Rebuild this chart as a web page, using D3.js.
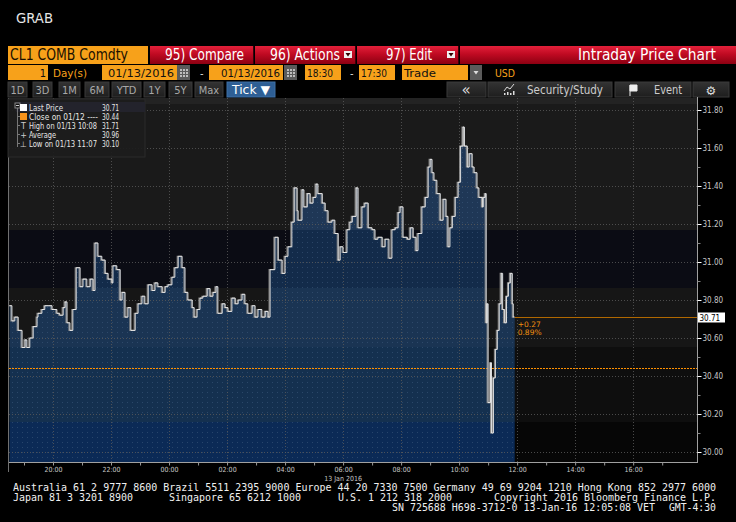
<!DOCTYPE html>
<html><head><meta charset="utf-8">
<script src="https://cdn.jsdelivr.net/npm/d3@7"></script>
<style>html,body{margin:0;padding:0;background:#000;overflow:hidden}</style>
</head><body><svg id="c" width="736" height="522"></svg>
<script>
// ---------- DATA ----------
const times = ["18:30","18:35","18:41","18:48","18:56","19:02","19:06","19:12","19:19","19:27","19:29","19:37","19:43","19:50","19:58","20:08","20:14","20:21","20:25","20:29","20:35","20:41","20:48","20:56","21:02","21:10","21:17","21:23","21:27","21:33","21:41","21:48","21:54","22:02","22:04","22:12","22:19","22:23","22:29","22:35","22:41","22:50",
"22:56","23:04","23:10","23:17","23:25","23:31","23:37","23:46","23:52","23:58","00:06","00:12","00:19","00:27","00:33","00:39","00:48","00:52","00:58","01:04","01:10","01:19","01:25","01:31","01:37","01:41","01:50","01:56","02:02","02:10","02:17","02:23","02:31","02:37","02:43","02:52","02:58","03:04","03:12","03:19","03:25",
"03:29","03:39","03:46","03:54","04:00","04:06","04:14","04:19","04:25","04:27","04:35","04:39","04:46","04:52","04:58","05:04","05:08","05:17","05:23","05:29","05:37","05:43","05:50","05:54","06:00","06:08","06:14","06:19","06:27","06:31","06:39","06:45","06:52","07:00","07:06","07:12","07:21","07:27","07:35","07:41","07:48",
"07:54","07:58","08:04","08:13","08:19","08:25","08:31","08:35","08:43","08:50","08:56","09:00","09:04","09:08","09:14","09:21","09:27","09:33","09:37","09:41","09:46","09:52","09:58","10:03","10:08","10:11","10:17","10:21","10:27","10:31","10:37","10:41","10:48","10:50","10:54","10:56","10:58","11:00","11:05","11:07","11:11","11:15","11:19","11:23","11:27","11:30","11:34","11:38","11:42","11:46","11:50","11:52","11:55"];
const prices = [30.77,30.69,30.71,30.64,30.55,30.59,30.55,30.60,30.66,30.71,30.73,30.75,30.77,30.77,30.75,30.73,30.72,30.76,30.79,30.68,30.64,30.75,30.97,30.87,30.91,30.87,30.91,30.85,31.10,31.03,31.01,30.94,30.91,30.89,30.98,30.96,30.80,30.84,30.71,30.76,30.64,30.73,
30.78,30.82,30.78,30.88,30.85,30.89,30.87,30.84,30.87,30.88,30.92,30.97,31.03,30.97,30.84,30.80,30.76,30.71,30.75,30.81,30.82,30.86,30.82,30.84,30.87,30.73,30.78,30.76,30.74,30.81,30.78,30.80,30.83,30.78,30.73,30.77,30.71,30.75,30.71,30.74,30.71,
30.96,31.13,31.01,30.94,31.03,31.08,31.21,31.39,31.27,31.22,31.38,31.29,31.36,31.31,31.34,31.41,31.36,31.31,31.27,31.21,31.22,31.15,31.01,31.08,31.05,31.17,31.21,31.24,31.39,31.18,31.29,31.31,31.18,31.17,31.12,31.13,31.08,31.12,31.02,31.17,31.18,
31.26,31.29,31.13,31.12,31.18,31.13,31.06,31.15,31.29,31.34,31.50,31.54,31.47,31.43,31.36,31.22,31.33,31.24,31.08,31.18,31.24,31.34,31.42,31.61,31.71,31.61,31.50,31.57,31.50,31.47,31.39,31.34,31.29,31.34,31.36,30.68,30.78,30.26,30.47,30.10,30.39,30.54,30.64,30.78,30.94,30.75,30.68,30.82,30.89,30.94,30.78,30.71,30.71];
const hourLabels = ["20:00","22:00","00:00","02:00","04:00","06:00","08:00","10:00","12:00","14:00","16:00"];
const hourTicks = ["19:00","20:00","21:00","22:00","23:00","00:00","01:00","02:00","03:00","04:00","05:00","06:00","07:00","08:00","09:00","10:00","11:00","12:00","13:00","14:00","15:00","16:00","17:00","18:00"];
const priceTicks = [30.00,30.20,30.40,30.60,30.80,31.00,31.20,31.40,31.60,31.80];
const minorTicks = [30.10,30.30,30.50,30.70,30.90,31.10,31.30,31.50,31.70];
const lastPrice = 30.71, prevClose = 30.44;
const changeText = ["+0.27","0.89%"];
const legendLabels = ["Last Price","Close on 01/12 ----","High on 01/13 10:08","Average","Low on 01/13 11:07"];
const legendValues = ["30.71","30.44","31.71","30.96","30.10"];
const dateLabel = "13 Jan 2016";

// ---------- SETUP ----------
const svg = d3.select("#c");
const NF = "'Liberation Sans Narrow','Arial Narrow','DejaVu Sans Condensed','Liberation Sans',sans-serif";
const CF = "'DejaVu Sans Condensed','DejaVu Sans',sans-serif";
const parseT = s => { const [h,m] = s.split(":").map(Number); return new Date(2016,0,h>=18?12:13,h,m); };
const data = times.map((t,i)=>({t:parseT(t), v:prices[i]}));
const PL=9, PR=697, PT=98, PB=462;
const x = d3.scaleTime().domain([new Date(2016,0,12,18,30), new Date(2016,0,13,18,12)]).range([9.5,697]);
const y = d3.scaleLinear().domain([30,31.8]).range([452,110]);

const defs = svg.append("defs");
const rg = defs.append("linearGradient").attr("id","red").attr("x1",0).attr("y1",0).attr("x2",0).attr("y2",1);
rg.append("stop").attr("offset","0%").attr("stop-color","#e3203a");
rg.append("stop").attr("offset","45%").attr("stop-color","#c00a22");
rg.append("stop").attr("offset","100%").attr("stop-color","#8c0012");
const bg = defs.append("linearGradient").attr("id","btn").attr("x1",0).attr("y1",0).attr("x2",0).attr("y2",1);
bg.append("stop").attr("offset","0%").attr("stop-color","#333");
bg.append("stop").attr("offset","100%").attr("stop-color","#1e1e1e");
const pat = defs.append("pattern").attr("id","dots").attr("width",5).attr("height",5).attr("patternUnits","userSpaceOnUse");
pat.append("rect").attr("x",2).attr("y",2).attr("width",1).attr("height",1).attr("fill","#3d5b7e").attr("opacity",0.55);
defs.append("clipPath").attr("id","plotclip").append("rect").attr("x",PL).attr("y",PT).attr("width",PR-PL).attr("height",PB-PT);

const area = d3.area().x(d=>x(d.t)).y0(PB).y1(d=>y(d.v)).curve(d3.curveStepAfter);
const line = d3.line().x(d=>x(d.t)).y(d=>y(d.v)).curve(d3.curveStepAfter);
defs.append("clipPath").attr("id","areaclip").append("path").attr("d",area(data));

function rect(g,x0,y0,w,h,fill,stroke){const r=g.append("rect").attr("x",x0).attr("y",y0).attr("width",w).attr("height",h).attr("fill",fill); if(stroke) r.attr("stroke",stroke).attr("stroke-width",1); return r;}
function text(g,x0,y0,s,o={}){const t=g.append("text").attr("x",x0).attr("y",y0).text(s)
  .attr("font-family",o.ff||NF).attr("font-size",o.fs||11).attr("fill",o.fill||"#fff").attr("text-anchor",o.anchor||"start");
  if(o.tl){t.attr("textLength",o.tl).attr("lengthAdjust","spacingAndGlyphs");} if(o.fw) t.attr("font-weight",o.fw); return t;}

// ---------- HEADER ----------
const hd = svg.append("g");
text(hd,16,23,"GRAB",{fs:14,fill:"#e6e6e6",tl:37});
rect(hd,8,46,140,18,"#f7a11a");
text(hd,10,60,"CL1 COMB Comdty",{fs:15,fill:"#1a1000",tl:118});
[[150,103,"95) Compare",165,79,false],[255,100,"96) Actions",270,70,true],[357,101,"97) Edit",386,46,true]].forEach(b=>{
  rect(hd,b[0],46,b[1],18,"url(#red)");
  hd.append("line").attr("x1",b[0]+b[1]+0.5).attr("x2",b[0]+b[1]+0.5).attr("y1",46).attr("y2",64).attr("stroke","#3a0008");
  text(hd,b[3],60,b[2],{fs:15,tl:b[4]});
  if(b[5]){const dx=b[0]+b[1]-11; rect(hd,dx,51,8,7,"#f0f0f0"); hd.append("path").attr("d",`M${dx+1.5},${53} L${dx+6.5},${53} L${dx+4},${56.5}Z`).attr("fill","#300");}
});
rect(hd,460,46,276,18,"url(#red)");
text(hd,716,60,"Intraday Price Chart",{fs:15,anchor:"end",tl:138});

// Row 2
const r2y=65, r2h=15, r2b=77;
rect(hd,8,r2y,40,r2h,"#f7a11a"); text(hd,46,r2b,"1",{fs:11,fill:"#111",anchor:"end"});
text(hd,53,r2b,"Day(s)",{fs:11,fill:"#f7a11a",tl:34});
function dateBox(x0,w,s,tx,tl){rect(hd,x0,r2y,w,r2h,"#f7a11a"); text(hd,tx,r2b,s,{fs:11,fill:"#111",tl:tl});}
function calIcon(x0){rect(hd,x0,r2y,13,r2h,"#5b5b5b"); for(let i=0;i<3;i++)for(let j=0;j<3;j++) rect(hd,x0+3+i*3,r2y+4+j*3,2,2,"#bdbdbd");}
dateBox(102,75,"01/13/2016",108,66); calIcon(177);
text(hd,200,r2b,"-",{fs:11,fill:"#ddd"});
dateBox(209,74,"01/13/2016",221,59); calIcon(284);
dateBox(305,36,"18:30",307,26);
text(hd,350,r2b,"-",{fs:11,fill:"#ddd"});
dateBox(359,36,"17:30",361,26);
dateBox(402,66,"Trade",404,32);
rect(hd,470,r2y,12,r2h,"#5b5b5b"); hd.append("path").attr("d","M473.5,71 L478.5,71 L476,74.5Z").attr("fill","#ddd");
text(hd,495,r2b,"USD",{fs:11,fill:"#f7a11a",tl:20});

// Row 3 buttons
const r3y=82, r3h=15, r3b=94;
[["1D",8,19],["3D",33,19],["1M",59,21],["6M",85,24],["YTD",112,29],["1Y",144,21],["5Y",169,23],["Max",195,28]].forEach(b=>{
  rect(hd,b[1],r3y,b[2],r3h,"url(#btn)","#3a3a3a");
  text(hd,b[1]+b[2]/2,r3b,b[0],{fs:11,fill:"#a8a8a8",anchor:"middle"});
});
rect(hd,227,r3y,48,r3h,"#2e5f95","#3f70a6");
text(hd,232,r3b,"Tick ▼",{fs:12,fill:"#fff",tl:38});
rect(hd,447,r3y,39,r3h,"url(#btn)","#3a3a3a"); text(hd,466,r3b+1,"«",{fs:15,fill:"#ddd",anchor:"middle",ff:"DejaVu Sans"});
rect(hd,488,r3y,124,r3h,"url(#btn)","#3a3a3a");
hd.append("path").attr("d","M504,91 L507,87 L510,89 L514,84").attr("fill","none").attr("stroke","#ddd").attr("stroke-width",1);
[[504,2],[507,3],[510,2],[513,4]].forEach(p=>rect(hd,p[0],95-p[1],1.5,p[1],"#ddd"));
text(hd,527,r3b,"Security/Study",{fs:12,fill:"#ccc",tl:76});
rect(hd,615,r3y,76,r3h,"url(#btn)","#3a3a3a");
hd.append("path").attr("d","M630,85 L630,96 M630,85 L637,85 L637,91 L630,91Z").attr("fill","#eee").attr("stroke","#eee").attr("stroke-width",1);
text(hd,654,r3b,"Event",{fs:12,fill:"#ccc",tl:28});
rect(hd,693,r3y,36,r3h,"url(#btn)","#3a3a3a");
text(hd,711,r3b+1,"⚙",{fs:12,fill:"#ddd",anchor:"middle",ff:"DejaVu Sans"});

// ---------- PLOT ----------
const pg = svg.append("g").attr("clip-path","url(#plotclip)");
const bands = [[97,104,"#232323"],[104,230,"#1a1a1a"],[230,288,"#0b0c14"],[288,347,"#161616"],[347,422,"#0e0e0e"],[422,462,"#060606"]];
bands.forEach(b=>rect(pg,PL,b[0],PR-PL,b[1]-b[0],b[2]));
const ag = pg.append("g").attr("clip-path","url(#areaclip)");
const aBands = [[97,230,"#1f3756"],[230,288,"#132b4a"],[288,347,"#1a3453"],[347,422,"#14304f"],[422,462,"#0b2a56"]];
aBands.forEach(b=>rect(ag,PL,b[0],PR-PL,b[1]-b[0],b[2]));
rect(ag,PL,97,PR-PL,365,"url(#dots)");

// grid
priceTicks.forEach(v=>pg.append("line").attr("x1",PL).attr("x2",PR).attr("y1",Math.round(y(v))+0.5).attr("y2",Math.round(y(v))+0.5)
  .attr("stroke","#5a5a5a").attr("stroke-dasharray","1,2").attr("opacity",0.8));
hourLabels.forEach(h=>{const xx=Math.round(x(parseT(h)))+0.5; pg.append("line").attr("x1",xx).attr("x2",xx).attr("y1",PT).attr("y2",PB)
  .attr("stroke","#5a5a5a").attr("stroke-dasharray","1,2").attr("opacity",0.8);});

// previous close line
pg.append("line").attr("x1",PL).attr("x2",PR).attr("y1",Math.round(y(prevClose))+0.5).attr("y2",Math.round(y(prevClose))+0.5)
  .attr("stroke","#ff9000").attr("stroke-width",1.2).attr("stroke-dasharray","2,1");

// price line with shadow
pg.append("path").attr("d",line(data)).attr("fill","none").attr("stroke","#8a8a8a").attr("stroke-width",1.1).attr("transform","translate(-1,0)");
pg.append("path").attr("d",line(data)).attr("fill","none").attr("stroke","#f2f2f2").attr("stroke-width",0.9);

// last price line
const lastX = x(data[data.length-1].t), ly = Math.round(y(lastPrice))+0.5;
pg.append("line").attr("x1",lastX).attr("x2",PR).attr("y1",ly).attr("y2",ly).attr("stroke","#b06800").attr("stroke-width",1);
text(pg,lastX+3,ly+9,changeText[0],{fs:7.5,fill:"#f09010",ff:"DejaVu Sans"});
text(pg,lastX+3,ly+17,changeText[1],{fs:7.5,fill:"#f09010",ff:"DejaVu Sans"});

// ---------- AXES ----------
const ax = svg.append("g");
ax.append("line").attr("x1",PR+0.5).attr("x2",PR+0.5).attr("y1",PT-1).attr("y2",PB+1).attr("stroke","#a0a0a0");
const yAxis = d3.axisRight(y).tickValues(priceTicks).tickSize(4).tickPadding(1).tickFormat(d3.format(".2f"));
const yg = ax.append("g").attr("transform",`translate(${PR+0.5},0)`).call(yAxis);
yg.select(".domain").remove();
yg.selectAll("line").attr("stroke","#fff");
yg.selectAll("text").attr("fill","#c8c8c8").attr("font-size",8).attr("font-family",CF);
const ym = ax.append("g").attr("transform",`translate(${PR+0.5},0)`).call(d3.axisRight(y).tickValues(minorTicks).tickSize(3).tickFormat(""));
ym.select(".domain").remove(); ym.selectAll("line").attr("stroke","#888");

ax.append("line").attr("x1",PL-1).attr("x2",PR+1).attr("y1",PB+0.5).attr("y2",PB+0.5).attr("stroke","#a0a0a0");
ax.append("line").attr("x1",PL-0.5).attr("x2",PL-0.5).attr("y1",PT).attr("y2",472).attr("stroke","#707070");
const xt = ax.append("g").attr("transform",`translate(0,${PB+0.5})`).call(d3.axisBottom(x).tickValues(hourTicks.map(parseT)).tickSize(3).tickFormat(""));
xt.select(".domain").remove(); xt.selectAll("line").attr("stroke","#999");
const xl = ax.append("g").attr("transform",`translate(0,${PB+0.5})`).call(d3.axisBottom(x).tickValues(hourLabels.map(parseT)).tickSize(0).tickPadding(5).tickFormat(d3.timeFormat("%H:%M")));
xl.select(".domain").remove();
xl.selectAll("text").attr("fill","#c8c8c8").attr("font-size",7).attr("font-family",CF);
text(ax,x(parseT("06:00")),481,dateLabel,{fs:7,fill:"#c8c8c8",anchor:"middle",ff:CF});

// last price tag
rect(ax,PR+1,ly-5,27,10,"#fff");
text(ax,PR+2.5,ly+3,lastPrice.toFixed(2),{fs:8,fill:"#000",ff:CF});

// ---------- LEGEND ----------
const lg = svg.append("g");
rect(lg,8,99,137,58,"#1c1c1c").attr("opacity",0.92);
rect(lg,8,99,137,58,"none","#2a2a2a");
rect(lg,16,102,129,10,"#23232c");
const rowY = [111,120,129,138,147];
const labelW = [34,69,68,27,68];
lg.append("line").attr("x1",17.5).attr("x2",17.5).attr("y1",108).attr("y2",147).attr("stroke","#777");
rowY.forEach((ry,i)=>{ if(i>0) lg.append("line").attr("x1",17.5).attr("x2",20).attr("y1",ry-3.5).attr("y2",ry-3.5).attr("stroke","#777");});
rect(lg,15,103,5,5,"#111","#888");
lg.append("line").attr("x1",16).attr("x2",19).attr("y1",105.5).attr("y2",105.5).attr("stroke","#ccc");
rect(lg,20,104,7,7,"#fff");
rect(lg,20,113,7,7,"#f7931a");
text(lg,23.5,rowY[2],"T",{fs:8,fill:"#ccc",anchor:"middle",ff:"DejaVu Sans"});
text(lg,23.5,rowY[3],"+",{fs:8,fill:"#ccc",anchor:"middle",ff:"DejaVu Sans"});
text(lg,23.5,rowY[4],"⊥",{fs:8,fill:"#ccc",anchor:"middle",ff:"DejaVu Sans"});
legendLabels.forEach((l,i)=>{
  text(lg,29,rowY[i],l,{fs:8,fill:"#e6e6e6",ff:CF,tl:labelW[i]});
  text(lg,102,rowY[i],legendValues[i],{fs:8,fill:"#e6e6e6",ff:CF,tl:17});
});

// ---------- FOOTER ----------
const ft = svg.append("g");
const MF = "'DejaVu Sans Mono','Liberation Mono',monospace";
text(ft,13,491,"Australia 61 2 9777 8600 Brazil 5511 2395 9000 Europe 44 20 7330 7500 Germany 49 69 9204 1210 Hong Kong 852 2977 6000",{fs:10,ff:MF,tl:703,fill:"#f0f0f0"});
text(ft,13,501,"Japan 81 3 3201 8900",{fs:10,ff:MF,tl:120,fill:"#f0f0f0"});
text(ft,169,501,"Singapore 65 6212 1000",{fs:10,ff:MF,tl:132,fill:"#f0f0f0"});
text(ft,338,501,"U.S. 1 212 318 2000",{fs:10,ff:MF,tl:114,fill:"#f0f0f0"});
text(ft,494,501,"Copyright 2016 Bloomberg Finance L.P.",{fs:10,ff:MF,tl:222,fill:"#f0f0f0"});
text(ft,392,511,"SN 725688 H698-3712-0 13-Jan-16 12:05:08 VET",{fs:10,ff:MF,tl:263,fill:"#f0f0f0"});
text(ft,669,511,"GMT-4:30",{fs:10,ff:MF,tl:47,fill:"#f0f0f0"});
</script></body></html>
